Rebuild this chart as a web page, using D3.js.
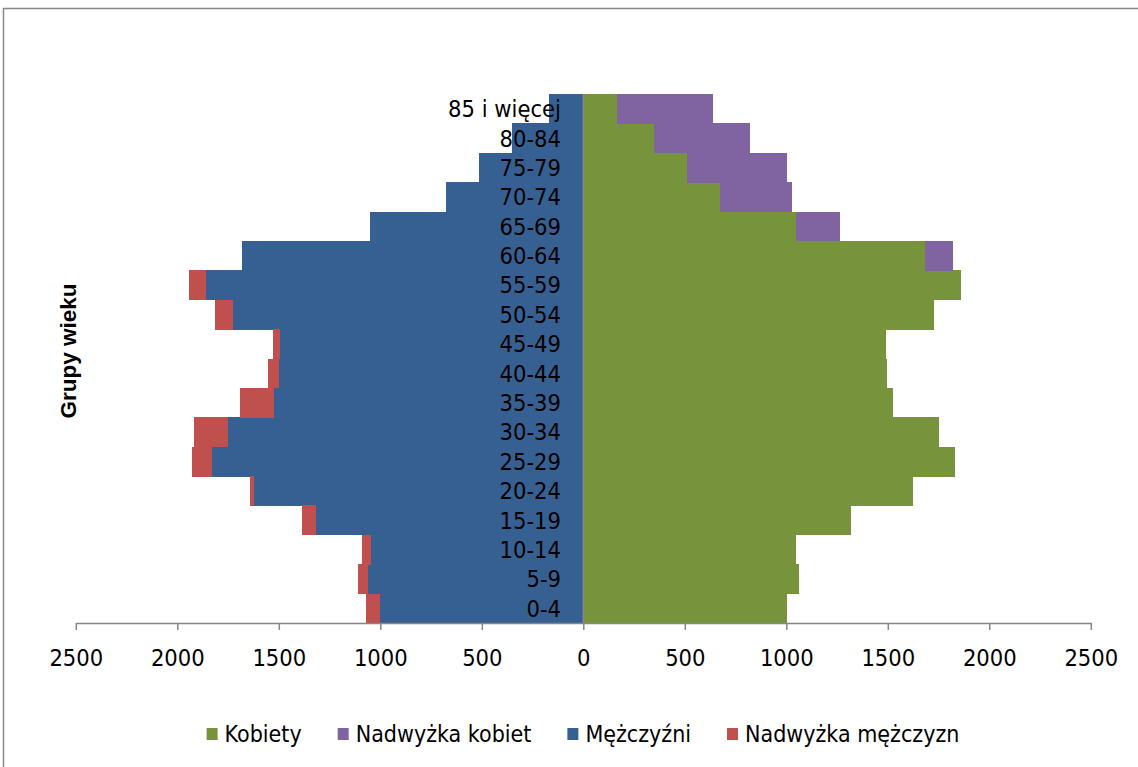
<!DOCTYPE html>
<html>
<head>
<meta charset="utf-8">
<script src="https://cdn.jsdelivr.net/npm/d3@7"></script>
<style>
  html, body { margin: 0; padding: 0; background: #fff; }
  svg { display: block; }
  .lbl { font-family: "DejaVu Sans Condensed", "DejaVu Sans", sans-serif; font-stretch: condensed; }
</style>
</head>
<body>
<svg id="chart" width="1138" height="767"></svg>
<script>
// ---- Data (bottom to top) ----
const categories = ["0-4","5-9","10-14","15-19","20-24","25-29","30-34","35-39","40-44","45-49","50-54","55-59","60-64","65-69","70-74","75-79","80-84","85 i więcej"];
const kobiety          = [1003,1062,1048,1318,1622,1830,1752,1525,1497,1492,1727,1860,1683,1049,675,512,349,168];
const nadwyzkaKobiet   = [0,0,0,0,0,0,0,0,0,0,0,0,136,215,354,491,473,473];
const mezczyzni        = [1003,1062,1048,1318,1622,1830,1752,1525,1497,1492,1727,1860,1683,1049,675,512,349,168];
const nadwyzkaMezczyzn = [69,49,40,67,22,98,167,168,57,36,89,80,0,0,0,0,0,0];
const tickValues = [-2500,-2000,-1500,-1000,-500,0,500,1000,1500,2000,2500];
const seriesNames = ["Kobiety","Nadwyżka kobiet","Mężczyźni","Nadwyżka mężczyzn"];
const seriesColors = ["#77933C","#8064A2","#376092","#C0504D"];
const yTitle = "Grupy wieku";

const svg = d3.select("#chart");
const fontSize = 23.5;

// chart frame
svg.append("rect").attr("x",3.5).attr("y",8.5).attr("width",1150).attr("height",800)
  .attr("fill","none").attr("stroke","#898989").attr("stroke-width",1.5);

const x = d3.scaleLinear().domain([-2500,2500]).range([75.8,1090.8]);
const y = d3.scaleBand().domain(categories.slice().reverse()).range([94,623]).padding(0);

const rows = categories.map((c,i)=>({c, k:kobiety[i], kx:nadwyzkaKobiet[i], m:mezczyzni[i], mx:nadwyzkaMezczyzn[i]}));

const g = svg.append("g").attr("shape-rendering","crispEdges");
// women
g.selectAll(".k").data(rows).join("rect")
  .attr("x", x(0)).attr("y", d=>y(d.c)).attr("height", y.bandwidth()+0.5)
  .attr("width", d=>x(d.k)-x(0)).attr("fill", seriesColors[0]);
g.selectAll(".kx").data(rows.filter(d=>d.kx>0)).join("rect")
  .attr("x", d=>x(d.k)).attr("y", d=>y(d.c)).attr("height", y.bandwidth()+0.5)
  .attr("width", d=>x(d.k+d.kx)-x(d.k)).attr("fill", seriesColors[1]);
// men
g.selectAll(".m").data(rows).join("rect")
  .attr("x", d=>x(-d.m)).attr("y", d=>y(d.c)).attr("height", y.bandwidth()+0.5)
  .attr("width", d=>x(0)-x(-d.m)).attr("fill", seriesColors[2]);
g.selectAll(".mx").data(rows.filter(d=>d.mx>0)).join("rect")
  .attr("x", d=>x(-(d.m+d.mx))).attr("y", d=>y(d.c)).attr("height", y.bandwidth()+0.5)
  .attr("width", d=>x(-d.m)-x(-(d.m+d.mx))).attr("fill", seriesColors[3]);

// vertical axis line at zero
svg.append("line").attr("x1",x(0)).attr("x2",x(0)).attr("y1",94).attr("y2",623)
  .attr("stroke","#868686").attr("stroke-width",1.5);

// bottom axis
const xAxis = d3.axisBottom(x).tickValues(tickValues).tickFormat(d=>Math.abs(d)).tickSize(7).tickPadding(19).tickSizeOuter(0);
const ax = svg.append("g").attr("transform","translate(0,623)").call(xAxis);
ax.select(".domain").attr("stroke","#868686").attr("stroke-width",1.5);
ax.selectAll(".tick line").attr("stroke","#868686").attr("stroke-width",1.5);
ax.selectAll(".tick text").attr("class","lbl").attr("font-size",fontSize).attr("fill","#000");

// category labels
svg.append("g").selectAll("text").data(categories).join("text")
  .attr("class","lbl").attr("x",561).attr("y",d=>y(d)+y.bandwidth()/2).attr("dy","0.36em")
  .attr("text-anchor","end").attr("font-size",fontSize).attr("fill","#000").text(d=>d);

// y title
svg.append("text").attr("transform","translate(76,351) rotate(-90)")
  .attr("text-anchor","middle").attr("font-family","'Liberation Sans', Arial, sans-serif")
  .attr("font-weight","bold").attr("font-size",22.5).attr("fill","#000").text(yTitle);

// legend
const leg = svg.append("g");
const items = leg.selectAll("g").data(seriesNames).join("g");
items.append("rect").attr("width",11).attr("height",12).attr("y",-6).attr("fill",(d,i)=>seriesColors[i]);
items.append("text").attr("class","lbl").attr("x",18).attr("dy","0.35em").attr("font-size",23).attr("fill","#000").text(d=>d);
let cx = 0;
items.each(function(){
  const w = 18 + d3.select(this).select("text").node().getComputedTextLength();
  d3.select(this).attr("transform",`translate(${cx},0)`);
  cx += w + 36;
});
const total = cx - 36;
leg.attr("transform",`translate(${583 - total/2},734)`);
</script>
</body>
</html>
